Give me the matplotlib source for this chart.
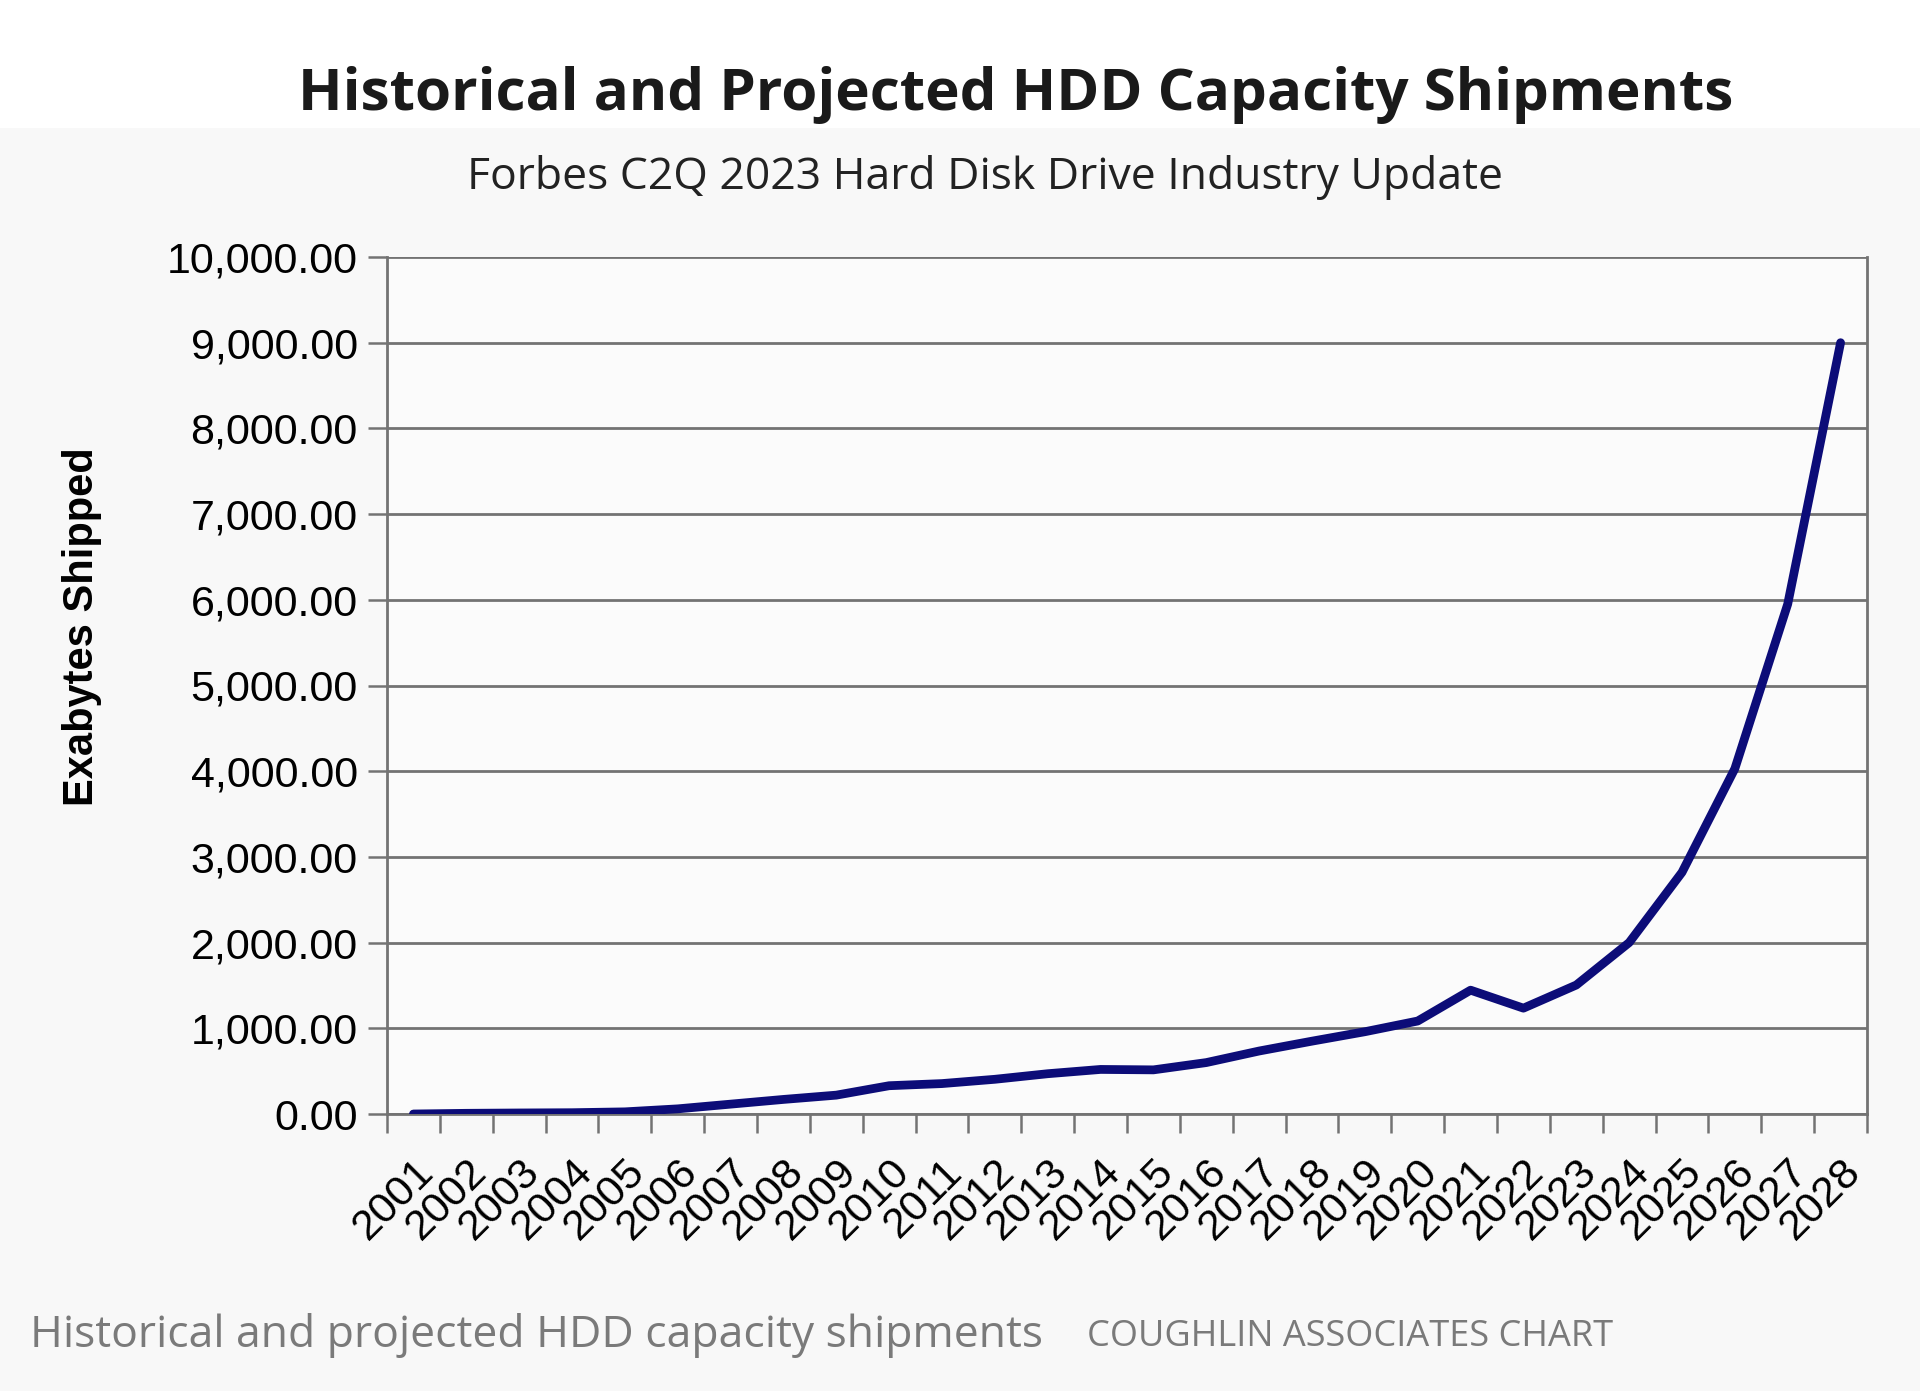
import numpy as np
import matplotlib.pyplot as plt
from matplotlib.patches import Rectangle

# Exabytes shipped per year
years = [str(y) for y in range(2001, 2029)]
exabytes = [0, 8, 12, 15, 25, 60, 115, 170, 220, 330, 355, 405, 470, 520,
            515, 600, 735, 850, 960, 1085, 1445, 1235, 1505, 2000, 2820,
            4030, 5950, 9000]
yticks = np.arange(0, 10001, 1000)

W, H = 1920, 1391
fig = plt.figure(figsize=(W / 100, H / 100), dpi=100)
fig.patch.set_facecolor('#f8f8f8')
# white band behind the main title
fig.patches.append(Rectangle((0, 1 - 128 / H), 1, 128 / H, transform=fig.transFigure,
                             facecolor='white', edgecolor='none', zorder=0))

ax = fig.add_axes([387 / W, 1 - 1114 / H, 1480 / W, (1114 - 257) / H])
ax.set_facecolor('#fbfbfb')

x = np.arange(len(years))
ax.plot(x, exabytes, color='#0c0c78', linewidth=6.3, solid_joinstyle='round',
        solid_capstyle='round', zorder=3)

ax.set_xlim(-0.5, len(years) - 0.5)
ax.set_ylim(0, 10000)

# horizontal grid
ax.set_yticks(yticks)
ax.set_yticklabels([f'{v:,.2f}' for v in yticks], fontsize=31,
                   fontfamily='Liberation Sans')
ax.yaxis.grid(True, color='#737373', linewidth=2)
ax.set_axisbelow(True)
ax.tick_params(axis='y', length=14, width=1.8, color='#737373', pad=7)

# category ticks at boundaries, labels at centres
ax.set_xticks(np.arange(-0.5, len(years)), minor=True)
ax.set_xticks(x)
ax.set_xticklabels(years, rotation=45, ha='right', rotation_mode='anchor',
                   fontsize=31, fontfamily='Liberation Sans')
ax.tick_params(axis='x', which='major', length=0, pad=27)
ax.tick_params(axis='x', which='minor', length=14, width=1.8, color='#737373')

for side in ['left', 'right', 'bottom']:
    ax.spines[side].set_color('#737373')
    ax.spines[side].set_linewidth(2)
ax.spines['top'].set_visible(False)

fig.text(1016 / W, 1 - 95 / H, 'Historical and Projected HDD Capacity Shipments',
         ha='center', va='center', fontsize=42, fontweight='bold',
         fontfamily='Open Sans', color='#1a1a1a')
fig.text(985 / W, 1 - 178 / H, 'Forbes C2Q 2023 Hard Disk Drive Industry Update',
         ha='center', va='center', fontsize=32, fontfamily='Open Sans',
         color='#222222')
fig.text(82 / W, 1 - 627 / H, 'Exabytes Shipped', rotation=90,
         ha='center', va='center', fontsize=30, fontweight='bold',
         fontfamily=['Liberation Sans Narrow', 'Liberation Sans'])

fig.text(30 / W, 1 - 1335 / H, 'Historical and projected HDD capacity shipments',
         ha='left', va='center', fontsize=32, fontfamily='Open Sans',
         color='#7a7a7a')
fig.text(1087 / W, 1 - 1337 / H, 'COUGHLIN ASSOCIATES CHART',
         ha='left', va='center', fontsize=26, fontfamily='Open Sans',
         color='#7a7a7a')

plt.savefig('out.png', dpi=100, facecolor=fig.get_facecolor())
